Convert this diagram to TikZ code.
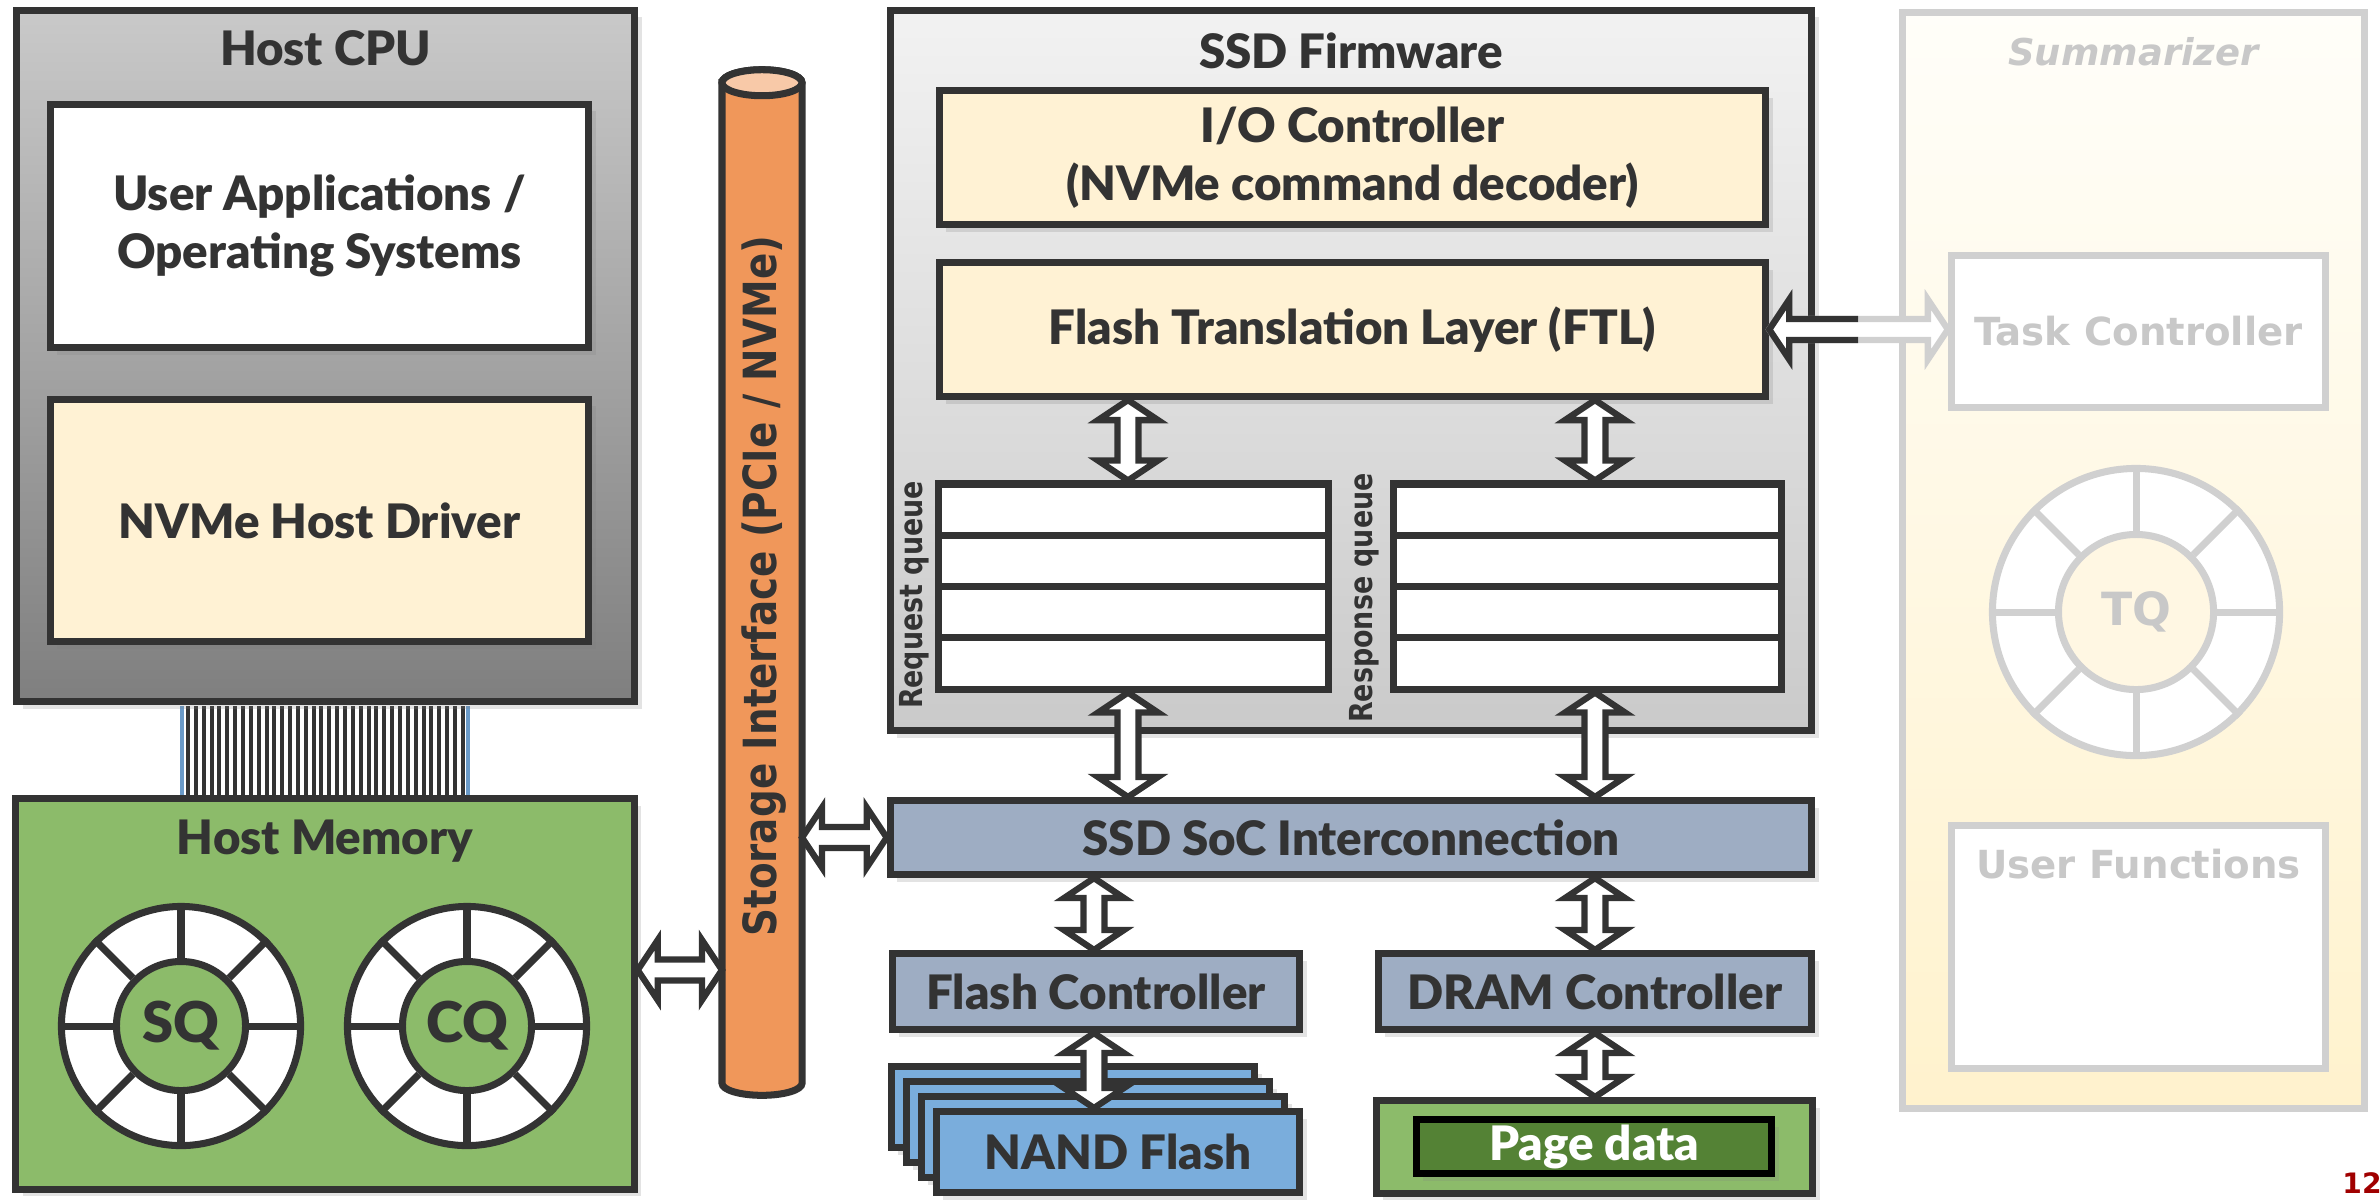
\documentclass[tikz,border=0pt]{standalone}
\usepackage{fontspec}
\setmainfont{Lato}
\IfFontExistsTF{Lato Black}{\newfontfamily\heavy{Lato Black}}{\newcommand\heavy{\bfseries}}
\newfontfamily\vera{DejaVu Sans}
\newfontfamily\veranarrow{DejaVu Sans}[FakeStretch=0.85]
\usetikzlibrary{calc,shadows}

\definecolor{ink}{HTML}{333333}
\definecolor{cpuTop}{HTML}{C9C9C9}
\definecolor{cpuBot}{HTML}{7F7F7F}
\definecolor{fwTop}{HTML}{F2F2F2}
\definecolor{fwBot}{HTML}{CACACA}
\definecolor{cream}{HTML}{FFF2D4}
\definecolor{memgreen}{HTML}{8CBB6A}
\definecolor{pagegreen}{HTML}{548235}
\definecolor{pipeor}{HTML}{F0975A}
\definecolor{pipetop}{HTML}{F8C9A8}
\definecolor{socblue}{HTML}{9EADC3}
\definecolor{nandblue}{HTML}{7AADDC}
\definecolor{busblue}{HTML}{6A9AC8}
\definecolor{sumTop}{HTML}{FFFEF9}
\definecolor{sumBot}{HTML}{FFF2CD}
\definecolor{fade}{HTML}{D0D0D0}
\definecolor{fadetext}{HTML}{C8C8C8}
\definecolor{tqhub}{HTML}{FFF7E3}
\definecolor{pagered}{HTML}{A00000}

\newcommand{\lab}{\fontsize{13.5}{16.5}\selectfont\heavy}
\newcommand{\pipelab}{\fontsize{13}{15}\selectfont\veranarrow\bfseries}
\newcommand{\qlab}{\fontsize{9}{11}\selectfont\veranarrow\bfseries}
\newcommand{\fadelab}{\fontsize{11}{13}\selectfont\vera\bfseries}

% arrow head length, head half width, shaft half width
\newcommand{\ahl}{0.2cm}
\newcommand{\ahw}{0.3cm}
\newcommand{\asw}{0.105cm}
\newcommand{\biarrow}[3][arrdark]{%
  \filldraw[#1] (#2)
    -- ($(#2)!\ahl!(#3)!\ahw!90:(#3)$)
    -- ($(#2)!\ahl!(#3)!\asw!90:(#3)$)
    -- ($(#3)!\ahl!(#2)!\asw!-90:(#2)$)
    -- ($(#3)!\ahl!(#2)!\ahw!-90:(#2)$)
    -- (#3)
    -- ($(#3)!\ahl!(#2)!\ahw!90:(#2)$)
    -- ($(#3)!\ahl!(#2)!\asw!90:(#2)$)
    -- ($(#2)!\ahl!(#3)!\asw!-90:(#3)$)
    -- ($(#2)!\ahl!(#3)!\ahw!-90:(#3)$)
    -- cycle;}

\tikzset{
  box/.style={draw=ink, line width=2pt, inner sep=0pt, align=center, font=\lab, text=ink},
  dshadow/.style={drop shadow={opacity=.22, shadow xshift=2pt, shadow yshift=-2pt}},
  title/.style={font=\lab, text=ink},
  qrow/.style={draw=ink, line width=2pt, fill=white, minimum height=0.5125cm, inner sep=0pt},
  ring/.style={circle, draw=ink, line width=2pt, fill=white, inner sep=0pt},
  hub/.style={circle, draw=ink, line width=2pt, inner sep=0pt, font=\fontsize{16}{18}\selectfont\heavy, text=ink},
  arrdark/.style={draw=ink, fill=white, line width=1.8pt, line join=miter},
  arrfade/.style={draw=fade, fill=white, line width=1.8pt, line join=miter},
  fadebox/.style={draw=fade, line width=2pt, fill=white, inner sep=0pt, font=\fadelab, text=fadetext},
}

\begin{document}
\begin{tikzpicture}[x=0.01cm, y=-0.01cm]
\useasboundingbox (0,0) rectangle (2380,1199);

% host side
\foreach \i in {0,...,35}
  \draw[ink, line width=0.04cm] (188+7.85*\i,706) -- ++(0,90);
\draw[busblue, line width=1pt] (182,706) -- (182,796) (468,706) -- (468,796);

\node[box, dshadow, top color=cpuTop, bottom color=cpuBot, minimum width=6.18cm, minimum height=6.91cm] (cpu) at (325.5,356) {};
\node[title] at (325.5,48) {Host CPU};
\node[box, dshadow, fill=white, minimum width=5.38cm, minimum height=2.43cm] (apps) at (319.5,226) {User Applications /\\Operating Systems};
\node[box, dshadow, fill=cream, minimum width=5.38cm, minimum height=2.42cm] (driver) at (319.5,520.5) {NVMe Host Driver};

\node[box, dshadow, fill=memgreen, minimum width=6.18cm, minimum height=3.9cm] (mem) at (325,994) {};
\node[title] at (325,841) {Host Memory};
\node[ring, minimum size=2.39cm] (sq) at (181,1026) {};
\node[hub, fill=memgreen, minimum size=1.29cm] (sqhub) at (sq) {SQ};
\node[ring, minimum size=2.39cm] (cq) at (467,1026) {};
\node[hub, fill=memgreen, minimum size=1.29cm] (cqhub) at (cq) {CQ};
\foreach \a in {0,45,...,315} {
  \draw[ink, line width=2pt] (sq.\a) -- (sqhub.\a);
  \draw[ink, line width=2pt] (cq.\a) -- (cqhub.\a);
}

% storage interface pipe
\node[minimum width=0.8cm, minimum height=10cm, inner sep=0pt, outer sep=0pt] (pipe) at (762,583) {};
\draw[ink, line width=2pt, fill=pipeor] (pipe.north west) -- (pipe.south west)
  arc[start angle=180, end angle=360, x radius=0.4cm, y radius=0.12cm] -- (pipe.north east)
  arc[start angle=0, end angle=180, x radius=0.4cm, y radius=0.13cm] -- cycle;
\draw[ink, line width=2pt, fill=pipetop] (pipe.north) ellipse [x radius=0.4cm, y radius=0.13cm];
\node[rotate=90, font=\pipelab, text=ink] at (764,586) {Storage Interface (PCIe / NVMe)};

% ssd firmware
\node[box, dshadow, top color=fwTop, bottom color=fwBot, minimum width=9.21cm, minimum height=7.2cm] (fw) at (1351,370.5) {};
\node[title] at (1351,51) {SSD Firmware};
\node[box, dshadow, fill=cream, minimum width=8.26cm, minimum height=1.34cm] (ioc) at (1352.5,157.5) {I/O Controller\\(NVMe command decoder)};
\node[box, dshadow, fill=cream, minimum width=8.26cm, minimum height=1.34cm] (ftl) at (1352.5,329.5) {Flash Translation Layer (FTL)};
\foreach \i in {1,...,4} {
  \node[qrow, minimum width=3.89cm] (rq\i) at (1133.5,458.375+51.25*\i) {};
  \node[qrow, minimum width=3.87cm] (rs\i) at (1587.5,458.375+51.25*\i) {};
}
\node[rotate=90, font=\qlab, text=ink] at (914,595) {Request queue};
\node[rotate=90, font=\qlab, text=ink] at (1364,598) {Response queue};

% soc
\node[box, dshadow, fill=socblue, minimum width=9.21cm, minimum height=0.74cm] (soc) at (1351,837.5) {SSD SoC Interconnection};
\node[box, dshadow, fill=socblue, minimum width=4.07cm, minimum height=0.76cm] (flashc) at (1096,991.5) {Flash Controller};
\node[box, dshadow, fill=socblue, minimum width=4.33cm, minimum height=0.76cm] (dramc) at (1595,991.5) {DRAM Controller};
\foreach \k/\o in {1/45,2/30,3/15}
  \node[box, dshadow, fill=nandblue, minimum width=3.63cm, minimum height=0.81cm] (nand\k) at (1118-\o,1152-\o) {};
\node[box, dshadow, fill=nandblue, minimum width=3.63cm, minimum height=0.81cm] (nand4) at (1118,1152) {NAND Flash};
\node[box, dshadow, fill=memgreen, minimum width=4.36cm, minimum height=0.93cm] (dram) at (1594.5,1147) {};
\node[box, dshadow, draw=black, fill=pagegreen, text=white, minimum width=3.55cm, minimum height=0.54cm] (page) at (1594,1146.5) {Page data};

% summarizer
\node[draw=fade, line width=2pt, top color=sumTop, bottom color=sumBot, minimum width=4.62cm, minimum height=10.96cm] (sum) at (2133.5,560.5) {};
\node[font=\fontsize{10.5}{12}\selectfont\vera\bfseries\itshape, text=fadetext] at (2133.5,52) {Summarizer};
\node[fadebox, minimum width=3.74cm, minimum height=1.52cm] (task) at (2138.5,331.5) {Task Controller};
\node[circle, draw=fade, line width=2pt, fill=white, minimum size=2.87cm] (tq) at (2136,612) {};
\node[circle, draw=fade, line width=2pt, fill=tqhub, minimum size=1.55cm, inner sep=0pt, font=\fontsize{13}{15}\selectfont\vera\bfseries, text=fadetext] (tqhub) at (tq) {TQ};
\foreach \a in {0,45,...,315}
  \draw[fade, line width=2pt] (tq.\a) -- (tqhub.\a);
\node[fadebox, minimum width=3.74cm, minimum height=2.43cm] (ufunc) at (2138.5,947) {};
\node[font=\fadelab, text=fadetext] at (2138.5,864) {User Functions};

\node[font=\fontsize{8}{10}\selectfont\vera\bfseries, text=pagered] at (2362,1183) {12};

% connectors
\coordinate (lvl) at (0,970);
\coordinate (colA) at (1128,0);
\coordinate (colB) at (1595,0);
\coordinate (colC) at (1094,0);
\biarrow{mem.east |- lvl}{pipe.west |- lvl}
\biarrow{pipe.east |- soc.west}{soc.west}
\biarrow{ftl.south -| colA}{rq1.north -| colA}
\biarrow{ftl.south -| colB}{rs1.north -| colB}
\biarrow{rq4.south -| colA}{soc.north -| colA}
\biarrow{rs4.south -| colB}{soc.north -| colB}
\biarrow{soc.south -| colC}{flashc.north -| colC}
\biarrow{soc.south -| colB}{dramc.north -| colB}
\biarrow{flashc.south -| colC}{nand4.north -| colC}
\biarrow{dramc.south -| colB}{dram.north -| colB}
\biarrow[arrfade]{ftl.east}{task.west |- ftl.east}
\begin{scope}
  \clip (1700,250) rectangle (1858,410);
  \biarrow{ftl.east}{task.west |- ftl.east}
\end{scope}
\end{tikzpicture}
\end{document}
